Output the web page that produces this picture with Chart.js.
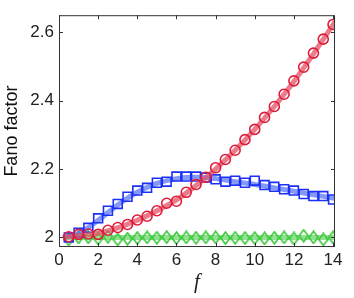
<!DOCTYPE html>
<html>
<head>
<meta charset="utf-8">
<script src="https://cdn.jsdelivr.net/npm/chart.js@4/dist/chart.umd.min.js"></script>
<style>
  html, body { margin: 0; padding: 0; background: #fff; }
  #wrap { width: 354px; height: 298px; }
</style>
</head>
<body>
<div id="wrap"><canvas id="fano"></canvas></div>
<script>
// sampled points (markers)
const fVals = [0.5, 1, 1.5, 2, 2.5, 3, 3.5, 4, 4.5, 5, 5.5, 6, 6.5, 7, 7.5,
    8, 8.5, 9, 9.5, 10, 10.5, 11, 11.5, 12, 12.5, 13, 13.5, 14];
const redVals = [2.002, 2.009, 2.010, 2.009, 2.021, 2.029, 2.038, 2.051, 2.062, 2.078,
    2.100, 2.106, 2.132, 2.155, 2.176, 2.204, 2.228, 2.255, 2.286, 2.316,
    2.351, 2.383, 2.419, 2.458, 2.498, 2.539, 2.580, 2.623];
const blueVals = [2.000, 2.014, 2.028, 2.056, 2.078, 2.098, 2.119, 2.137, 2.145, 2.160,
    2.163, 2.178, 2.178, 2.178, 2.175, 2.170, 2.163, 2.166, 2.160, 2.166,
    2.153, 2.148, 2.141, 2.137, 2.127, 2.121, 2.121, 2.111];
const greenVals = [1.994, 2.000, 2.000, 1.997, 2.002, 1.994, 1.996, 1.998, 2.000, 1.999,
    2.001, 1.998, 2.000, 1.999, 2.000, 2.000, 1.998, 1.999, 1.998, 1.998,
    1.997, 1.999, 2.000, 1.997, 2.005, 2.000, 1.994, 2.000];

// smooth theory curves (thick faded lines)
const lineF = [0.2, 1, 2, 3, 4, 5, 6, 7, 8, 9, 10, 11, 12, 13, 14, 14.1];
const redLine = [2.000, 2.005, 2.012, 2.028, 2.050, 2.078, 2.110, 2.152, 2.200, 2.255,
    2.316, 2.383, 2.456, 2.537, 2.622, 2.631];
const blueLine = [2.000, 2.012, 2.050, 2.095, 2.132, 2.158, 2.172, 2.176, 2.172, 2.163,
    2.155, 2.145, 2.135, 2.125, 2.115, 2.114];
const greenLine = [2.000, 2.000, 2.000, 2.000, 2.000, 2.000, 2.000, 2.000, 2.000, 2.000,
    2.000, 2.000, 2.000, 2.000, 2.000, 2.000];

const xTicks = [0, 2, 4, 6, 8, 10, 12, 14];
const yTicks = [2, 2.2, 2.4, 2.6];

const toXY = (xs, ys) => xs.map((x, i) => ({ x: x, y: ys[i] }));

// tall narrow diamond marker
function makeDiamond(color) {
    const c = document.createElement('canvas');
    c.width = 11;
    c.height = 14;
    const g = c.getContext('2d');
    g.strokeStyle = color;
    g.lineWidth = 1.6;
    g.beginPath();
    g.moveTo(5.5, 1);
    g.lineTo(10, 7);
    g.lineTo(5.5, 13);
    g.lineTo(1, 7);
    g.closePath();
    g.stroke();
    return c;
}

const RED = 'rgb(222, 28, 58)';
const BLUE = 'rgb(28, 48, 245)';
const GREEN = 'rgb(55, 200, 55)';

function lineSet(xs, ys, color, order) {
    return {
        data: toXY(xs, ys),
        showLine: true,
        borderColor: color,
        borderWidth: 5,
        pointRadius: 0,
        tension: 0.4,
        order: order
    };
}

function markerSet(ys, color, style, radius, order) {
    return {
        data: toXY(fVals, ys),
        showLine: false,
        pointStyle: style,
        pointRadius: radius,
        pointBorderColor: color,
        pointBackgroundColor: 'rgba(0,0,0,0)',
        pointBorderWidth: 1.6,
        order: order
    };
}

// box frame with inward ticks on all four sides
const frameTicks = {
    id: 'frameTicks',
    afterDraw(chart) {
        const { ctx, chartArea: a, scales } = chart;
        ctx.save();
        ctx.strokeStyle = '#333';
        ctx.lineWidth = 1;
        ctx.strokeRect(a.left + 0.5, a.top + 0.5, a.right - a.left - 1, a.bottom - a.top - 1);
        ctx.beginPath();
        xTicks.forEach(v => {
            const px = Math.round(scales.x.getPixelForValue(v)) + 0.5;
            ctx.moveTo(px, a.bottom);
            ctx.lineTo(px, a.bottom - 4);
            ctx.moveTo(px, a.top);
            ctx.lineTo(px, a.top + 4);
        });
        yTicks.forEach(v => {
            const py = Math.round(scales.y.getPixelForValue(v)) + 0.5;
            ctx.moveTo(a.left, py);
            ctx.lineTo(a.left + 4, py);
            ctx.moveTo(a.right, py);
            ctx.lineTo(a.right - 4, py);
        });
        ctx.stroke();
        ctx.restore();
    }
};

new Chart(document.getElementById('fano'), {
    type: 'scatter',
    data: {
        datasets: [
            lineSet(lineF, greenLine, 'rgba(110, 215, 110, 0.75)', 6),
            markerSet(greenVals, GREEN, makeDiamond(GREEN), 5, 5),
            lineSet(lineF, blueLine, 'rgba(80, 110, 245, 0.7)', 4),
            markerSet(blueVals, BLUE, 'rect', 6.3, 3),
            lineSet(lineF, redLine, 'rgba(228, 80, 100, 0.75)', 2),
            markerSet(redVals, RED, 'circle', 5, 1)
        ]
    },
    options: {
        responsive: true,
        maintainAspectRatio: false,
        animation: false,
        layout: { padding: { top: 15, right: 19, left: 0, bottom: 0 } },
        plugins: { legend: { display: false }, tooltip: { enabled: false } },
        scales: {
            x: {
                type: 'linear',
                min: 0,
                max: 14.1,
                afterBuildTicks: axis => { axis.ticks = xTicks.map(v => ({ value: v })); },
                afterFit: axis => { axis.height = 51; },
                grid: { display: false, drawTicks: false },
                border: { display: false },
                ticks: {
                    padding: 3,
                    color: '#222',
                    font: { family: 'Liberation Sans', size: 17 }
                },
                title: {
                    display: true,
                    text: 'f',
                    color: '#222',
                    padding: { top: 0, bottom: 3 },
                    font: { family: 'Liberation Serif', style: 'italic', size: 21 }
                }
            },
            y: {
                type: 'linear',
                min: 1.972,
                max: 2.65,
                afterBuildTicks: axis => { axis.ticks = yTicks.map(v => ({ value: v })); },
                afterFit: axis => { axis.width = 59; },
                grid: { display: false, drawTicks: false },
                border: { display: false },
                ticks: {
                    padding: 5,
                    color: '#222',
                    font: { family: 'Liberation Sans', size: 17 },
                    callback: v => String(v)
                },
                title: {
                    display: true,
                    text: 'Fano factor',
                    color: '#111',
                    padding: { top: 1, bottom: 0 },
                    font: { family: 'Liberation Sans', size: 18 }
                }
            }
        }
    },
    plugins: [frameTicks]
});
</script>
</body>
</html>
